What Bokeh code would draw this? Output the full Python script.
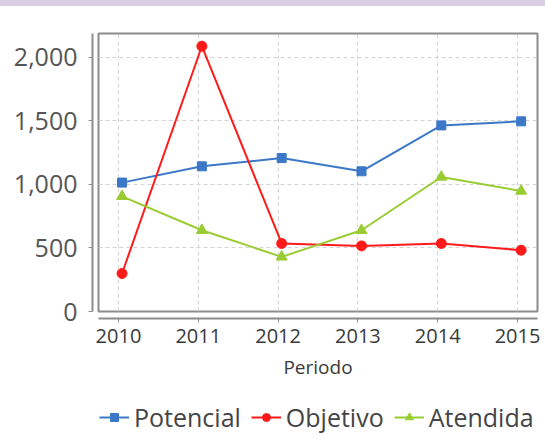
from bokeh.plotting import figure
from bokeh.layouts import column
from bokeh.models import (Range1d, FixedTicker, NumeralTickFormatter, Legend,
                          LegendItem, ColumnDataSource, LinearAxis)
from bokeh.transform import dodge
from bokeh.embed import file_html
from bokeh.resources import INLINE

# ---- data ----
years = [2010, 2011, 2012, 2013, 2014, 2015]
potencial = [1014, 1142, 1207, 1103, 1464, 1496]
objetivo = [299, 2087, 535, 516, 535, 482]
atendida = [906, 639, 430, 639, 1058, 948]
y_ticks = [0, 500, 1000, 1500, 2000]
x_title = "Periodo"
series_names = ["Potencial", "Objetivo", "Atendida"]
series_colors = ["#3b78c8", "#ff1a1a", "#99cc33"]
series_markers = ["square", "circle", "triangle"]
series_sizes = [9, 10, 11]

FONT = "Open Sans"
AXIS_GREY = "#8c8c8c"

p = figure(width=545, height=400, output_backend="svg", toolbar_location=None,
           x_range=Range1d(2009.75, 2015.25), y_range=Range1d(0, 2187),
           min_border_left=98, min_border_right=8, min_border_top=33,
           min_border_bottom=89, background_fill_color="white",
           border_fill_color=None,
           styles={"background": "linear-gradient(to bottom, #d9d0e4 0px, #d9d0e4 6px, #ffffff 6px, #ffffff 100%)"})

p.outline_line_color = AXIS_GREY
p.outline_line_width = 2

# grid
p.xgrid.ticker = FixedTicker(ticks=years)
p.ygrid.ticker = FixedTicker(ticks=y_ticks)
p.grid.grid_line_color = "#d4d4d4"
p.grid.grid_line_dash = "4 3"
p.grid.grid_line_width = 1

# inner spacer axes (create the gap between plot box and axis lines)
for ax, ticks, gap in ((p.xaxis[0], years, 8), (p.yaxis[0], y_ticks, 7)):
    ax.ticker = FixedTicker(ticks=ticks)
    ax.axis_line_color = None
    ax.major_tick_in = 0
    ax.major_tick_out = gap - 1
    ax.major_tick_line_color = None
    ax.minor_tick_line_color = None
    ax.major_label_text_font_size = "1px"
    ax.major_label_text_alpha = 0
    ax.major_label_standoff = 0

# outer x axis
xa = LinearAxis(ticker=FixedTicker(ticks=years))
xa.axis_line_color = AXIS_GREY
xa.axis_line_width = 2
xa.major_tick_in = 0
xa.major_tick_out = 4
xa.major_tick_line_color = AXIS_GREY
xa.major_tick_line_width = 1
xa.minor_tick_line_color = None
xa.major_label_text_font = FONT
xa.major_label_text_font_size = "20px"
xa.major_label_text_color = "#3a3a3a"
xa.major_label_standoff = 6
xa.axis_label = x_title
xa.axis_label_text_font = FONT
xa.axis_label_text_font_size = "19px"
xa.axis_label_text_font_style = "normal"
xa.axis_label_text_color = "#3a3a3a"
xa.axis_label_standoff = 8
p.add_layout(xa, "below")

# outer y axis
ya = LinearAxis(ticker=FixedTicker(ticks=y_ticks),
                formatter=NumeralTickFormatter(format="0,0"))
ya.axis_line_color = AXIS_GREY
ya.axis_line_width = 2
ya.major_tick_in = 0
ya.major_tick_out = 4
ya.major_tick_line_color = AXIS_GREY
ya.major_tick_line_width = 1
ya.minor_tick_line_color = None
ya.major_label_text_font = FONT
ya.major_label_text_font_size = "25px"
ya.major_label_text_color = "#555555"
ya.major_label_standoff = 11
p.add_layout(ya, "left")

src = ColumnDataSource(dict(year=years, Potencial=potencial,
                            Objetivo=objetivo, Atendida=atendida))
xs = dodge("year", 0.045, range=p.x_range)

for name, col, mk, sz in zip(series_names, series_colors, series_markers, series_sizes):
    p.line(x=xs, y=name, source=src, line_color=col, line_width=2)
    p.scatter(x=xs, y=name, source=src, marker=mk, size=sz,
              fill_color=col, line_color=col)

# ---- legend strip (separate figure below the chart) ----
lp = figure(width=545, height=36, output_backend="svg", toolbar_location=None,
            x_range=Range1d(0, 1), y_range=Range1d(0, 1),
            x_axis_location=None, y_axis_location=None,
            min_border=0, min_border_left=0, min_border_right=0,
            min_border_top=0, min_border_bottom=0,
            background_fill_color="white", border_fill_color="white")
lp.outline_line_color = None
lp.grid.visible = False

items = []
for name, col, mk, sz in zip(series_names, series_colors, series_markers, series_sizes):
    # same series, outside this strip's ranges: only used for the legend glyphs
    r1 = lp.line(x="year", y=name, source=src, line_color=col, line_width=2)
    r2 = lp.scatter(x="year", y=name, source=src, marker=mk, size=sz,
                    fill_color=col, line_color=col)
    items.append(LegendItem(label=name, renderers=[r1, r2]))

legend = Legend(items=items, orientation="horizontal", location=(1, 2),
                padding=0, margin=0, spacing=10, label_standoff=5,
                glyph_width=30, glyph_height=20,
                label_text_font=FONT, label_text_font_size="25px",
                label_text_color="#444444",
                border_line_color=None, background_fill_alpha=0)
lp.add_layout(legend, "center")

layout = column(p, lp, spacing=0)
open("out.html", "w").write(file_html(layout, INLINE))
